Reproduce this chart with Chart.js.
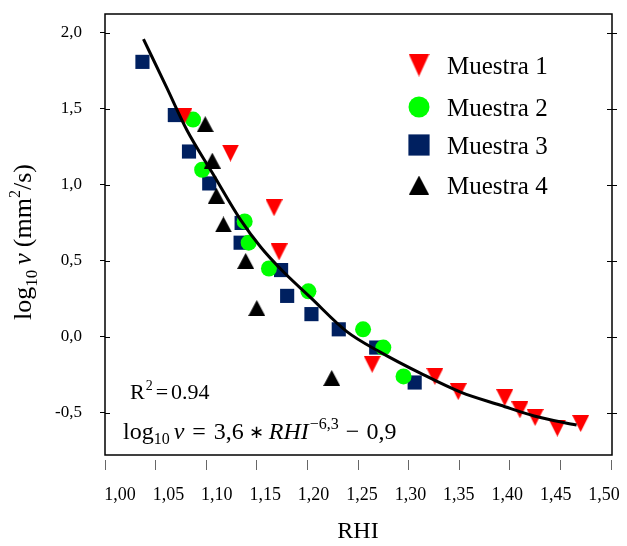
<!DOCTYPE html>
<html>
<head>
<meta charset="utf-8">
<script src="https://cdn.jsdelivr.net/npm/chart.js@4.4.1/dist/chart.umd.min.js"></script>
<style>
  html, body { margin: 0; padding: 0; background: #fff; }
  #chart { display: block; }
</style>
</head>
<body>
<canvas id="chart" width="627" height="546"></canvas>
<script>
// values: RHI and log10 v per sample
var m1RHI = [1.078, 1.124, 1.167, 1.172, 1.264, 1.326, 1.349, 1.395, 1.410, 1.425, 1.447, 1.470];
var m1Log = [1.45, 1.21, 0.85, 0.56, -0.18, -0.26, -0.36, -0.40, -0.48, -0.53, -0.60, -0.57];

var m2RHI = [1.087, 1.096, 1.138, 1.142, 1.162, 1.201, 1.255, 1.275, 1.295];
var m2Log = [1.43, 1.10, 0.76, 0.62, 0.45, 0.30, 0.05, -0.07, -0.26];

var m3RHI = [1.037, 1.069, 1.083, 1.103, 1.135, 1.134, 1.174, 1.180, 1.204, 1.231, 1.268, 1.306];
var m3Log = [1.81, 1.46, 1.22, 1.01, 0.75, 0.62, 0.44, 0.27, 0.15, 0.05, -0.07, -0.30];

var m4RHI = [1.099, 1.106, 1.110, 1.117, 1.139, 1.150, 1.224];
var m4Log = [1.40, 1.16, 0.93, 0.74, 0.50, 0.19, -0.27];

// fitted curve as it is drawn in the figure
var fitRHI = [1.038, 1.061, 1.081, 1.106, 1.134, 1.154, 1.176, 1.203, 1.239, 1.272, 1.312, 1.352, 1.391, 1.424, 1.466];
var fitLog = [1.96, 1.64, 1.36, 1.08, 0.77, 0.59, 0.43, 0.26, 0.035, -0.10, -0.24, -0.365, -0.45, -0.52, -0.58];

var seriesNames = ['Muestra 1', 'Muestra 2', 'Muestra 3', 'Muestra 4'];
var xTicks = [1.00, 1.05, 1.10, 1.15, 1.20, 1.25, 1.30, 1.35, 1.40, 1.45, 1.50];
var yTicks = [-0.5, 0.0, 0.5, 1.0, 1.5, 2.0];

var SERIF = "'Liberation Serif', 'Times New Roman', serif";

function toPoints(xs, ys) {
    return xs.map(function(x, i) { return { x: x, y: ys[i] }; });
}

// marker images (triangles a bit taller than Chart.js' equilateral ones)
function makeTri(color, w, h, down) {
    var c = document.createElement('canvas');
    c.width = w; c.height = h;
    var g = c.getContext('2d');
    g.fillStyle = color;
    g.beginPath();
    if (down) {
        g.moveTo(0, 0); g.lineTo(w, 0); g.lineTo(w / 2, h);
    } else {
        g.moveTo(w / 2, 0); g.lineTo(w, h); g.lineTo(0, h);
    }
    g.closePath();
    g.fill();
    return c;
}

var redTri = makeTri('#ff0000', 17, 17, true);
var blackTri = makeTri('#000000', 17, 16, false);
var redTriBig = makeTri('#ff0000', 21, 23, true);
var blackTriBig = makeTri('#000000', 20, 19, false);

var legendItems = [
    { text: seriesNames[0], style: redTriBig, color: '#ff0000', radius: 10 },
    { text: seriesNames[1], style: 'circle', color: '#00ff00', radius: 10.5 },
    { text: seriesNames[2], style: 'rect', color: '#002060', radius: 15 },
    { text: seriesNames[3], style: blackTriBig, color: '#000000', radius: 10 }
];

function drawParts(ctx, parts, x, y) {
    parts.forEach(function(p) {
        ctx.font = (p.italic ? 'italic ' : '') + p.size + 'px ' + SERIF;
        x += p.gap || 0;
        ctx.fillText(p.t, x, y + (p.dy || 0));
        x += ctx.measureText(p.t).width;
    });
    return x;
}

function partsWidth(ctx, parts) {
    var w = 0;
    parts.forEach(function(p) {
        ctx.font = (p.italic ? 'italic ' : '') + p.size + 'px ' + SERIF;
        w += (p.gap || 0) + ctx.measureText(p.t).width;
    });
    return w;
}

function noPad(s) {
    s.paddingLeft = 0; s.paddingRight = 0; s.paddingTop = 0; s.paddingBottom = 0;
}

var framePlugin = {
    id: 'frame',
    afterDatasetsDraw: function(chart) {
        var ctx = chart.ctx, a = chart.chartArea, ys = chart.scales.y;
        var left = a.left, right = a.right + 1, top = a.top, bottom = a.bottom - 5;
        ctx.save();
        ctx.strokeStyle = '#000';
        ctx.lineWidth = 1.5;
        ctx.strokeRect(left, top, right - left, bottom - top);
        ctx.lineWidth = 1;
        yTicks.forEach(function(v) {
            var py = Math.round(ys.getPixelForValue(v)) + 0.5;
            ctx.beginPath();
            ctx.moveTo(left, py); ctx.lineTo(left + 5, py);
            ctx.moveTo(right - 5, py); ctx.lineTo(right + 5, py);
            ctx.stroke();
        });
        ctx.restore();
    },
    afterDraw: function(chart) {
        var ctx = chart.ctx;
        ctx.save();
        ctx.textBaseline = 'alphabetic';
        ctx.textAlign = 'left';

        // legend
        var ly = [65, 107, 145, 185];
        legendItems.forEach(function(it, i) {
            ctx.fillStyle = it.color;
            Chart.helpers.drawPoint(ctx, {
                pointStyle: it.style, radius: it.radius, rotation: 0, borderWidth: 0
            }, 419, ly[i]);
            ctx.fillStyle = '#000';
            ctx.font = '25px ' + SERIF;
            ctx.textBaseline = 'middle';
            ctx.fillText(it.text, 447, ly[i] + 2);
        });
        ctx.textBaseline = 'alphabetic';
        ctx.fillStyle = '#000';

        // y axis title
        var title = [
            { t: 'log', size: 26 },
            { t: '10', size: 17, dy: 6 },
            { t: 'v', size: 26, italic: true, gap: 5 },
            { t: '(mm', size: 26, gap: 6 },
            { t: '2', size: 16, dy: -11 },
            { t: '/s)', size: 26 }
        ];
        var tw = partsWidth(ctx, title);
        ctx.translate(31, 242);
        ctx.rotate(-Math.PI / 2);
        drawParts(ctx, title, -tw / 2, 0);
        ctx.setTransform(1, 0, 0, 1, 0, 0);

        // fit annotations
        drawParts(ctx, [
            { t: 'R', size: 22 },
            { t: '2', size: 14, dy: -9, gap: 1 },
            { t: '=', size: 22, gap: 3 },
            { t: '0.94', size: 22, gap: 3 }
        ], 130, 399);

        drawParts(ctx, [
            { t: 'log', size: 24 },
            { t: '10', size: 16, dy: 5 },
            { t: 'v', size: 24, italic: true, gap: 4 },
            { t: '=', size: 24, gap: 8 },
            { t: '3,6', size: 24, gap: 8 },
            { t: '\u2217', size: 18, gap: 5, dy: -1 },
            { t: 'RHI', size: 24, italic: true, gap: 5 },
            { t: '\u22126,3', size: 16, dy: -10, gap: 1 },
            { t: '\u2212', size: 24, gap: 7 },
            { t: '0,9', size: 24, gap: 7 }
        ], 123, 439);
        ctx.restore();
    }
};

var ctx = document.getElementById('chart');
var myChart = new Chart(ctx, {
    type: 'scatter',
    data: {
        datasets: [{
            label: 'Ajuste',
            data: toPoints(fitRHI, fitLog),
            showLine: true,
            borderColor: '#000',
            borderWidth: 3,
            pointRadius: 0,
            cubicInterpolationMode: 'monotone'
        }, {
            label: seriesNames[0],
            data: toPoints(m1RHI, m1Log),
            pointStyle: redTri,
            backgroundColor: '#ff0000'
        }, {
            label: seriesNames[3],
            data: toPoints(m4RHI, m4Log),
            pointStyle: blackTri,
            backgroundColor: '#000'
        }, {
            label: seriesNames[1],
            data: toPoints(m2RHI, m2Log),
            pointStyle: 'circle',
            pointRadius: 8,
            backgroundColor: '#00ff00',
            borderWidth: 0
        }, {
            label: seriesNames[2],
            data: toPoints(m3RHI, m3Log),
            pointStyle: 'rect',
            pointRadius: 10,
            backgroundColor: '#002060',
            borderWidth: 0
        }]
    },
    options: {
        responsive: false,
        animation: false,
        devicePixelRatio: 1,
        layout: {
            padding: { left: 45, right: 16, top: 14, bottom: 0 }
        },
        plugins: {
            legend: { display: false },
            tooltip: { enabled: false }
        },
        scales: {
            // tick marks of the RHI axis, set a little below the frame
            x: {
                type: 'linear',
                position: 'bottom',
                min: 1.0,
                max: 1.5,
                afterBuildTicks: function(s) { s.ticks = xTicks.map(function(v) { return { value: v }; }); },
                afterFit: function(s) { s.height = 10; noPad(s); },
                grid: { drawOnChartArea: false, drawTicks: true, tickLength: 10, color: '#666', lineWidth: 1 },
                border: { display: false },
                ticks: { display: false }
            },
            // labels of the RHI axis (spaced slightly tighter than the marks, as in the figure)
            xLabels: {
                type: 'linear',
                position: 'bottom',
                min: 0.9845,
                max: 1.5072,
                afterBuildTicks: function(s) { s.ticks = xTicks.map(function(v) { return { value: v }; }); },
                afterFit: function(s) { s.height = 76; noPad(s); },
                grid: { display: false },
                border: { display: false },
                ticks: {
                    color: '#000',
                    font: { family: SERIF, size: 18 },
                    padding: 6,
                    maxRotation: 0,
                    autoSkip: false,
                    callback: function(v) { return v.toFixed(2).replace('.', ','); }
                },
                title: {
                    display: true,
                    text: 'RHI',
                    color: '#000',
                    font: { family: SERIF, size: 24 },
                    padding: { top: 0, bottom: 0 }
                }
            },
            y: {
                type: 'linear',
                min: -0.81,
                max: 2.125,
                afterBuildTicks: function(s) { s.ticks = yTicks.map(function(v) { return { value: v }; }); },
                afterFit: function(s) { s.width = 60; noPad(s); },
                grid: { drawOnChartArea: false, drawTicks: true, tickLength: 5, color: '#000', lineWidth: 1 },
                border: { display: false },
                ticks: {
                    color: '#000',
                    font: { family: SERIF, size: 17 },
                    padding: 18,
                    callback: function(v) { return v.toFixed(1).replace('.', ','); }
                }
            }
        }
    },
    plugins: [framePlugin]
});
</script>
</body>
</html>
